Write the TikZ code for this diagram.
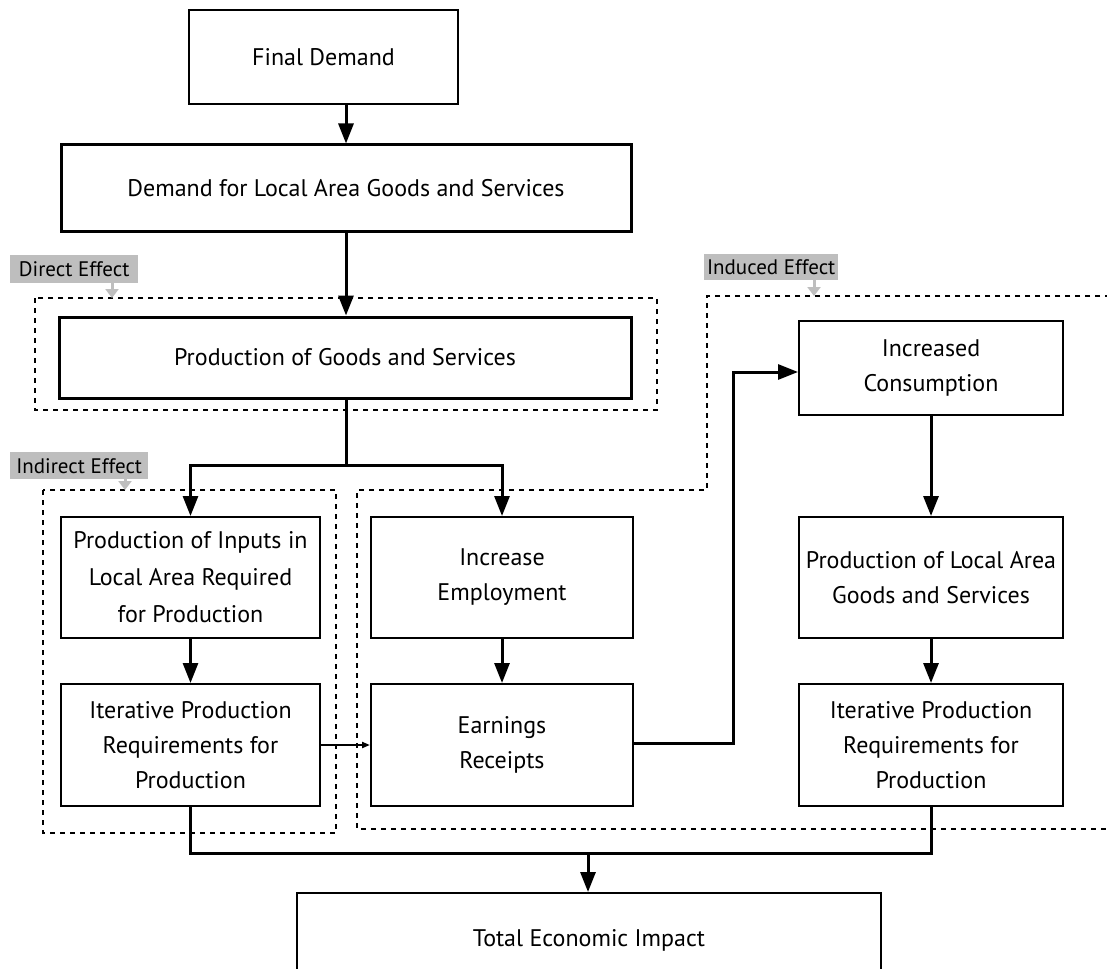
\documentclass[tikz,border=0pt]{standalone}
\usepackage{fontspec}
\setmainfont{PT Sans}
\usetikzlibrary{arrows.meta}
\definecolor{lgray}{RGB}{190,190,190}
\tikzset{
  box/.style={draw, line width=2pt, align=center, inner sep=0pt,
    font=\fontsize{24}{35}\selectfont},
  thickbox/.style={box, line width=3pt},
  arr/.style={line width=3pt, -{Triangle[length=20pt,width=15pt]}},
  conn/.style={line width=3pt},
  thinarr/.style={line width=2pt, -{Triangle[length=8pt,width=6pt]}},
  dashline/.style={dash pattern=on 5pt off 5pt, line width=1.3pt},
  tag/.style={fill=lgray, inner sep=0pt, font=\fontsize{21}{24}\selectfont, anchor=north west},
  garr/.style={draw=lgray, line width=3pt, -{Triangle[length=9pt,width=13pt]}}
}
\begin{document}
\begin{tikzpicture}[x=1pt,y=-1pt]
\clip (0,0) rectangle (1107,968);
\fill[white] (0,0) rectangle (1107,968);

% dashed regions
\draw[dashline] (35,298) rectangle (657,410);
\draw[dashline] (43,490) rectangle (336,833);
\draw[dashline] (1110,296) -- (707,296) -- (707,490) -- (357,490) -- (357,829) -- (1110,829);

% tags
\node[tag, minimum width=128pt, minimum height=28pt] (tdir) at (10,255) {Direct Effect};
\node[tag, minimum width=138pt, minimum height=27pt] (tind) at (10,452) {Indirect Effect};
\node[tag, minimum width=134pt, minimum height=26pt] (tinduced) at (704,254) {Induced Effect};
\coordinate (pdir) at (112,298);
\coordinate (pind) at (125,490);
\coordinate (pinduced) at (814,296);
\draw[garr] (tdir.south -| pdir) -- (pdir);
\draw[garr] (tind.south -| pind) -- (pind);
\draw[garr] (tinduced.south -| pinduced) -- (pinduced);

% boxes
\node[box, minimum width=269pt, minimum height=94pt] (fd) at (323.5,57) {Final Demand};
\node[thickbox, minimum width=570pt, minimum height=87pt] (dl) at (346,188.5) {Demand for Local Area Goods and Services};
\node[thickbox, minimum width=572pt, minimum height=81pt] (pg) at (345,357.5) {Production of Goods and Services};
\node[box, minimum width=259pt, minimum height=121pt, font=\fontsize{24}{37}\selectfont] (pi) at (190.5,577.5) {Production of Inputs in\\Local Area Required\\for Production};
\node[box, minimum width=259pt, minimum height=122pt] (il) at (190.5,745) {Iterative Production\\Requirements for\\Production};
\node[box, minimum width=262pt, minimum height=121pt] (ie) at (502,577.5) {Increase\\Employment};
\node[box, minimum width=262pt, minimum height=122pt] (er) at (502,745) {Earnings\\Receipts};
\node[box, minimum width=264pt, minimum height=94pt] (ic) at (931,368) {Increased\\Consumption};
\node[box, minimum width=264pt, minimum height=121pt] (pl) at (931,577.5) {Production of Local Area\\Goods and Services};
\node[box, minimum width=264pt, minimum height=122pt] (ir) at (931,745) {Iterative Production\\Requirements for\\Production};
\node[box, minimum width=584pt, minimum height=94pt] (te) at (589,940) {Total Economic Impact};

% connectors
\draw[arr] (fd.south -| dl.north) -- (dl.north);
\draw[arr] (dl.south) -- (dl.south |- pg.north);
\coordinate (split) at (346,465);
\draw[conn] (pg.south -| split) -- (split);
\draw[arr] (split) -| (pi.north);
\draw[arr] (split) -| (ie.north);
\draw[arr] (pi.south) -- (il.north);
\draw[arr] (ie.south) -- (er.north);
\draw[arr] (ic.south) -- (pl.north);
\draw[arr] (pl.south) -- (ir.north);
\draw[thinarr] (il.east) -- (er.west);
\coordinate (bend) at (733,0);
\draw[arr] ([yshift=2pt]er.east) -| ([yshift=-4pt]ic.west -| bend) -- ([yshift=-4pt]ic.west);
\coordinate (bj) at (588,853);
\draw[conn] (il.south) -- (il.south |- bj) -- (ir.south |- bj) -- (ir.south);
\draw[arr] (bj) -- (bj |- te.north);
\end{tikzpicture}
\end{document}
